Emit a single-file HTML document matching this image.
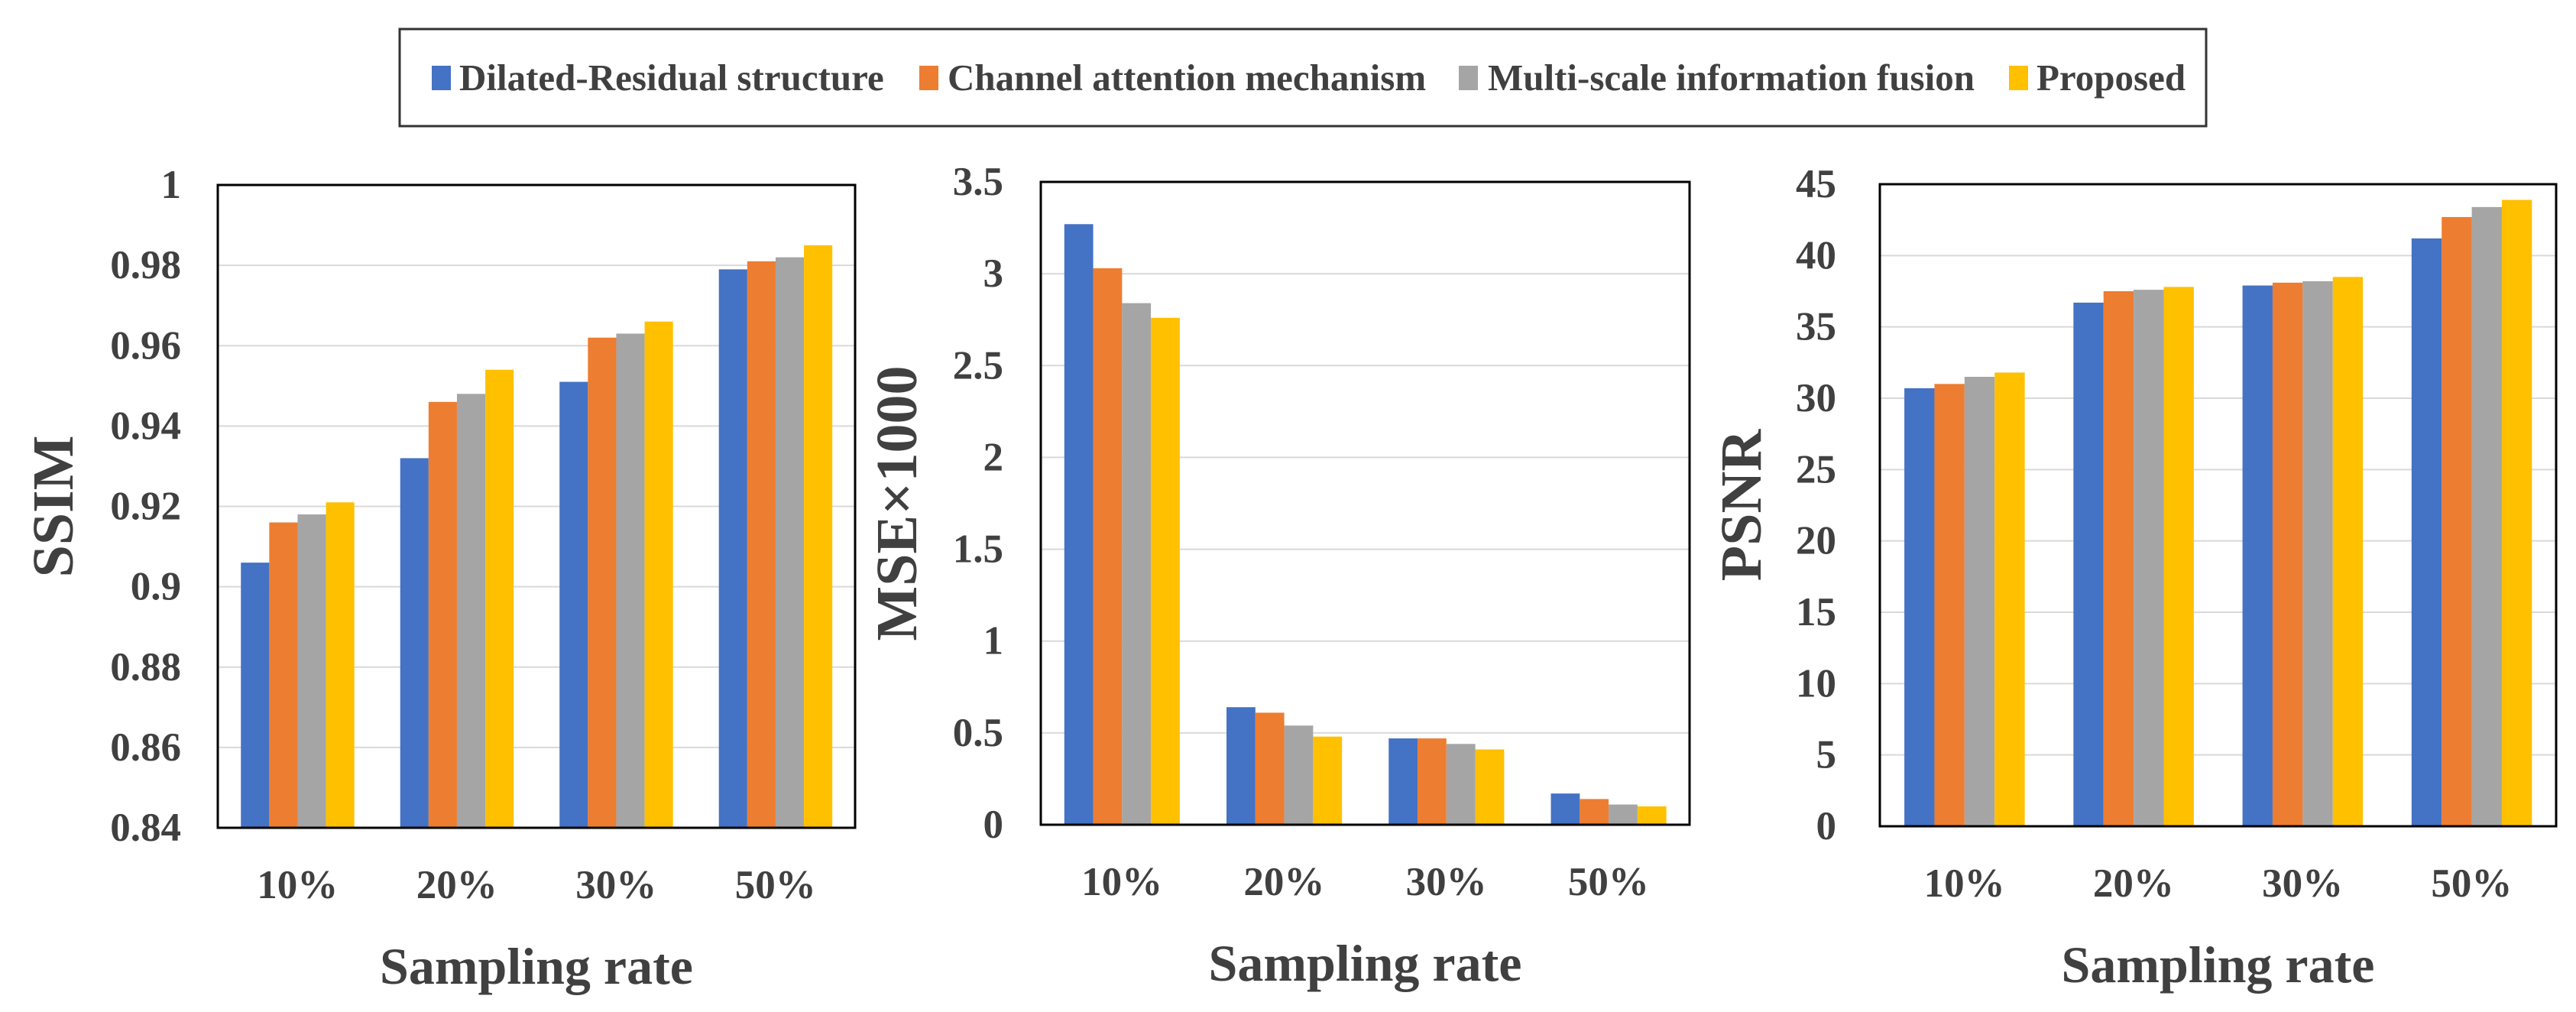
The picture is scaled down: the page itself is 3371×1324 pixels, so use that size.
<!DOCTYPE html>
<html><head><meta charset="utf-8"><style>
html,body{margin:0;padding:0;background:#fff;}
svg{display:block;font-family:"Liberation Serif",serif;font-weight:bold;}
</style></head><body>
<svg id="chart" width="3371" height="1324" viewBox="0 0 3371 1324" xmlns="http://www.w3.org/2000/svg">
<g>
<rect x="523" y="38" width="2364" height="127" fill="#fff" stroke="#333" stroke-width="3"/>
<rect x="565" y="86" width="25" height="32" fill="#4472C4"/>
<text x="601" y="118" font-size="49" fill="#404040">Dilated-Residual structure</text>
<rect x="1203" y="86" width="25" height="32" fill="#ED7D31"/>
<text x="1240" y="118" font-size="49" fill="#404040">Channel attention mechanism</text>
<rect x="1909" y="86" width="25" height="32" fill="#A5A5A5"/>
<text x="1947" y="118" font-size="49" fill="#404040">Multi-scale information fusion</text>
<rect x="2629" y="86" width="25" height="32" fill="#FFC000"/>
<text x="2665" y="118" font-size="49" fill="#404040">Proposed</text>
</g>
</svg>
<script>
const categories = ["10%","20%","30%","50%"];
const colors = ["#4472C4","#ED7D31","#A5A5A5","#FFC000"];
const seriesNames = ["dilated","channel","multiscale","proposed"];
const ssimValues = [[0.906,0.932,0.951,0.979],[0.916,0.946,0.962,0.981],[0.918,0.948,0.963,0.982],[0.921,0.954,0.966,0.985]];
const mseValues = [[3.27,0.64,0.47,0.17],[3.03,0.61,0.47,0.14],[2.84,0.54,0.44,0.11],[2.76,0.48,0.41,0.10]];
const psnrValues = [[30.7,36.7,37.9,41.2],[31.0,37.5,38.1,42.7],[31.5,37.6,38.2,43.4],[31.8,37.8,38.5,43.9]];
const ssimTicks = ["0.84","0.86","0.88","0.9","0.92","0.94","0.96","0.98","1"];
const mseTicks = ["0","0.5","1","1.5","2","2.5","3","3.5"];
const psnrTicks = ["0","5","10","15","20","25","30","35","40","45"];

const svg = document.getElementById('chart');
const NS = "http://www.w3.org/2000/svg";
function mk(tag, attrs, parent){ const e=document.createElementNS(NS,tag); for(const k in attrs) e.setAttribute(k,attrs[k]); parent.appendChild(e); return e; }

function drawChart(name, box, ticks, values, title, titleX, tickRight){
  const g = mk('g',{},svg);
  
  
  const min = parseFloat(ticks[0]), max = parseFloat(ticks[ticks.length-1]);
  const y = v => box.b - (v-min)/(max-min)*(box.b-box.t);
  const gw = (box.r-box.l)/categories.length;
  const bw = gw*0.178, off = gw*0.145;
  ticks.forEach(t=>{
    const yy = y(parseFloat(t));
    const gl = mk('line',{x1:box.l,x2:box.r,y1:yy,y2:yy,stroke:'#d9d9d9','stroke-width':2},g);
    
    
    const tl = mk('text',{x:tickRight,y:yy+17,'text-anchor':'end','font-size':53,fill:'#404040'},g);
    
    
    tl.textContent = t;
  });
  categories.forEach((c,ci)=>{
    const gx = box.l + ci*gw;
    values.forEach((s,si)=>{
      const v = s[ci];
      const r = mk('rect',{x:gx+off+si*bw,y:y(v),width:bw,height:box.b-y(v),fill:colors[si]},g);
      
      
    });
    const cl = mk('text',{x:gx+gw/2,y:box.b+92,'text-anchor':'middle','font-size':53,fill:'#404040'},g);
    
    
    cl.textContent = c;
  });
  const fr = mk('rect',{x:box.l,y:box.t,width:box.r-box.l,height:box.b-box.t,fill:'none',stroke:'#000','stroke-width':3},g);
  
  
  const xt = mk('text',{x:(box.l+box.r)/2,y:box.b+204,'text-anchor':'middle','font-size':68,fill:'#404040'},g);
  
  
  xt.textContent = 'Sampling rate';
  const cy = (box.t+box.b)/2;
  const yt = mk('text',{x:titleX,y:cy,'text-anchor':'middle','font-size':76,fill:'#404040',transform:`rotate(-90 ${titleX} ${cy})`,dy:26},g);
  
  
  yt.textContent = title;
}
drawChart('ssim',{l:285,r:1119,t:242,b:1083},ssimTicks,ssimValues,'SSIM',69,237);
drawChart('mse',{l:1362,r:2211,t:238,b:1079},mseTicks,mseValues,'MSE×1000',1173,1313);
drawChart('psnr',{l:2460,r:3345,t:241,b:1081},psnrTicks,psnrValues,'PSNR',2278,2403);
</script>
</body></html>
